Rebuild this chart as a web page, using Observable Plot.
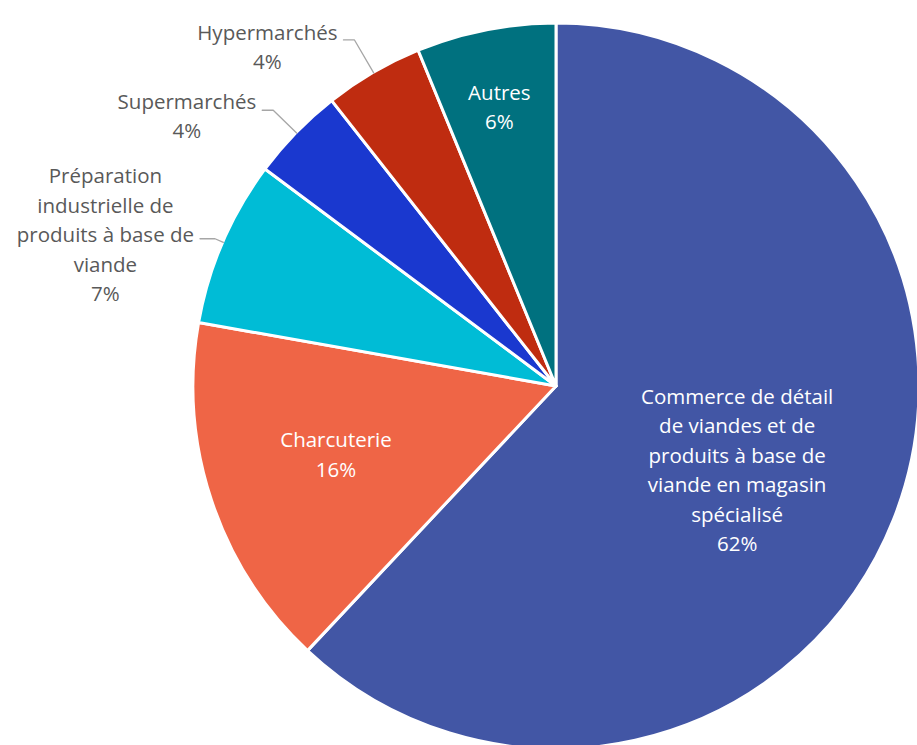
<!DOCTYPE html>
<html>
<head>
<meta charset="utf-8">
<script src="https://cdn.jsdelivr.net/npm/d3@7"></script>
<script src="https://cdn.jsdelivr.net/npm/@observablehq/plot@0.6"></script>
<style>
  html, body { margin: 0; padding: 0; background: #fff; }
  #chart { width: 917px; height: 745px; overflow: hidden; }
</style>
</head>
<body>
<div id="chart"></div>
<script>
// ---- data ----
const categories = [
  "Commerce de détail\nde viandes et de\nproduits à base de\nviande en magasin\nspécialisé",
  "Charcuterie",
  "Préparation\nindustrielle de\nproduits à base de\nviande",
  "Supermarchés",
  "Hypermarchés",
  "Autres"
];
const shares = [62.0, 15.8, 7.4, 4.2, 4.4, 6.2];
const colors = ["#4256A5", "#EF6546", "#00BCD6", "#1A38CF", "#BF2C10", "#00717F"];

// ---- layout / style config ----
const W = 917, H = 745;
const CX = 556, CY = 386, R = 363;
const FONT = "Open Sans";
const FS = 20.5;
// label placement: inside labels at radius factor; outside labels with leader
const labelMode   = ["in", "in", "out", "out", "out", "in"];
const labelRadius = [0.55, 0.64, 1.025, 1.09, 1.105, 0.785];
const leaderLen   = [0, 0, 15, 11, 11, 0];
const labelDx     = [-5, 0, 0, 0, 0, -2];
const labelDy     = [8, -7, -6, 4, 5, -2];

const rows = categories.map((c, i) => ({
  name: c, value: shares[i], color: colors[i], i,
  text: c + "\n" + Math.round(shares[i]) + "%"
}));

const arcs = d3.pie().sort(null).value(d => d.value)(rows);
const pt = (a, r) => [CX + r * Math.sin(a), CY - r * Math.cos(a)];

const ctx = document.createElement("canvas").getContext("2d");
ctx.font = `${FS}px "${FONT}"`;
const textWidth = s => d3.max(s.split("\n"), l => ctx.measureText(l).width);

const labels = [];
const leaders = [];
arcs.forEach(a => {
  const i = a.data.i;
  const mid = (a.startAngle + a.endAngle) / 2;
  if (labelMode[i] === "in") {
    const [x, y] = pt(mid, R * labelRadius[i]);
    labels.push({x: x + labelDx[i], y: y + labelDy[i], text: a.data.text, fill: "#FFFFFF"});
  } else {
    const [ex, ey] = pt(mid, R);
    const [bx, by] = pt(mid, R * labelRadius[i]);
    const lx = bx - leaderLen[i];
    leaders.push({x: ex, y: ey, k: i}, {x: bx, y: by, k: i}, {x: lx, y: by, k: i});
    const w = textWidth(a.data.text);
    labels.push({x: lx - 6 - w / 2, y: by + labelDy[i], text: a.data.text, fill: "#595959"});
  }
});

function pieMark(index, scales) {
  const g = d3.create("svg:g");
  const cx = scales.x(CX), cy = scales.y(CY);
  const arcGen = d3.arc().innerRadius(0).outerRadius(R);
  g.selectAll("path").data(arcs).join("path")
    .attr("transform", `translate(${cx},${cy})`)
    .attr("d", arcGen)
    .attr("fill", d => d.data.color)
    .attr("stroke", "#FFFFFF")
    .attr("stroke-width", 3)
    .attr("stroke-linejoin", "round");
  return g.node();
}

const chart = Plot.plot({
  width: W, height: H, margin: 0,
  x: {domain: [0, W], range: [0, W], axis: null},
  y: {domain: [0, H], range: [0, H], axis: null},
  style: {background: "#fff"},
  marks: [
    pieMark,
    Plot.line(leaders, {x: "x", y: "y", z: "k", stroke: "#A6A6A6", strokeWidth: 1.3}),
    Plot.text(labels, {
      x: "x", y: "y", text: "text", fill: "fill",
      fontSize: FS, fontFamily: FONT, lineHeight: 1.44, textAnchor: "middle"
    })
  ]
});
document.getElementById("chart").append(chart);
</script>
</body>
</html>
